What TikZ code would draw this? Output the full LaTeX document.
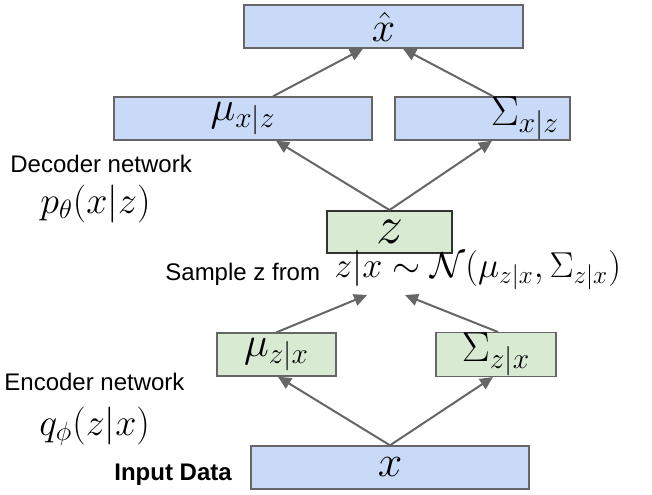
\RequirePackage{fix-cm}
\documentclass[tikz,border=0pt]{standalone}
\usepackage{fontspec}
\newfontfamily\lab{Liberation Sans}
\usetikzlibrary{arrows.meta,calc}
\definecolor{boxblue}{HTML}{C9DAF8}
\definecolor{boxgreen}{HTML}{D9EAD3}
\definecolor{edgegray}{HTML}{666666}
\definecolor{darkedge}{HTML}{333333}
\tikzset{
  bluebox/.style={draw=edgegray, line width=0.7pt, fill=boxblue, minimum height=21.5pt, inner sep=0pt},
  greenbox/.style={draw=edgegray, line width=0.7pt, fill=boxgreen, minimum height=21.5pt, inner sep=0pt},
  zbox/.style={draw=darkedge, line width=1pt, fill=boxgreen, minimum height=21pt, inner sep=0pt},
  conn/.style={draw=edgegray, line width=1pt, -{Triangle[length=6.5pt,width=6pt]}},
  boxmath/.style={font=\fontsize{21}{25}\selectfont},
  lbl/.style={font=\lab\fontsize{12}{14}\selectfont, inner sep=0pt, anchor=base west},
  mathlbl/.style={font=\fontsize{19}{23}\selectfont, inner sep=0pt, anchor=base west},
}
\begin{document}
\begin{tikzpicture}[x=0.5pt,y=-0.5pt]
\useasboundingbox (0,0) rectangle (652,494);
% boxes
\node[bluebox, boxmath, minimum width=139.5pt] (xhat) at (383.5,26.5) {$\hat{x}$};
\node[bluebox, boxmath, minimum width=129pt] (muxz) at (243,118.5) {$\mu_{x|z}$};
\node[bluebox, minimum width=87.5pt] (sigxz) at (482.5,118.5) {};
\node[boxmath, inner sep=0pt] (sigxzlbl) at (525,118.5) {$\Sigma_{x|z}$};
\node[zbox, font=\fontsize{27}{30}\selectfont, minimum width=62.5pt] (z) at (389.5,232) {$z$};
\node[greenbox, boxmath, minimum width=59.5pt] (muzx) at (276.5,354.5) {$\mu_{z|x}$};
\node[greenbox, boxmath, minimum width=60pt] (sigzx) at (496,354.5) {$\Sigma_{z|x}$};
\node[bluebox, font=\fontsize{22}{26}\selectfont, minimum width=139pt] (x) at (390,467.5) {$x$};
% labels
\node[font=\fontsize{18}{22}\selectfont, inner sep=0pt, anchor=base west] (form) at (334,277) {$z|x \sim \mathcal{N}(\mu_{z|x}, \Sigma_{z|x})$};
\node[lbl] (samp) at (165,280) {Sample z from};
\node[lbl] (dec) at (10,172) {Decoder network};
\node[mathlbl] (pth) at (40,213) {$p_\theta(x|z)$};
\node[lbl] (enc) at (4,390) {Encoder network};
\node[mathlbl] (qph) at (39,435) {$q_\phi(z|x)$};
\node[lbl] (inp) at (114,480) {\bfseries Input Data};
% connectors
\draw[conn] ($(muxz.north)+(30,0)$) -- ($(xhat.south)+(-20.5,0)$);
\draw[conn] ($(sigxz.north)+(10.5,0)$) -- ($(xhat.south)+(19.5,0)$);
\draw[conn] (z.north) -- ($(muxz.south)+(33,0)$);
\draw[conn] (z.north) -- ($(sigxz.south)+(9.5,0)$);
\draw[conn] (muzx.north) -- ($(form.base west)+(33,18)$);
\draw[conn] ($(sigzx.north)+(2,0)$) -- ($(form.base west)+(71,18)$);
\draw[conn] (x.north) -- ($(muzx.south)+(1.5,0)$);
\draw[conn] (x.north) -- ($(sigzx.south)+(-3,0)$);
\end{tikzpicture}
\end{document}
